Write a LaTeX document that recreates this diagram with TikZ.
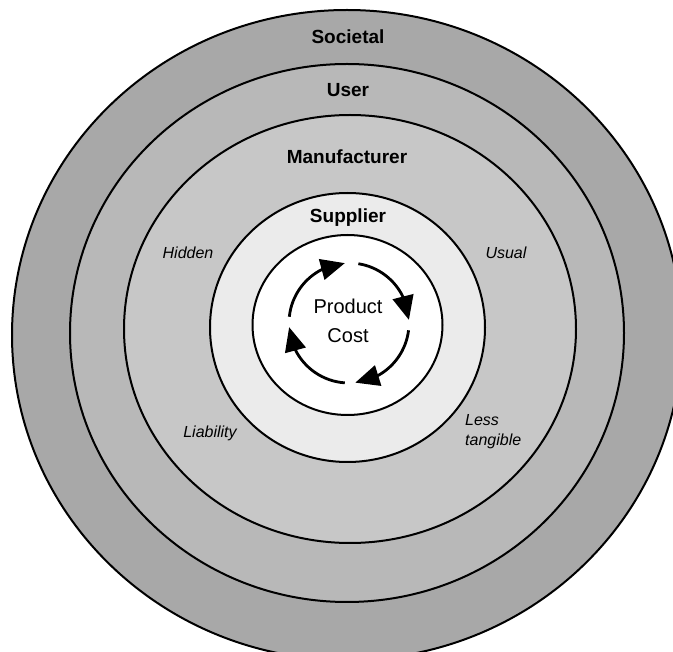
\documentclass[tikz,border=0pt]{standalone}
\usepackage{fontspec}
\setmainfont{Liberation Sans}
\usetikzlibrary{arrows.meta,bending}
\begin{document}
\begin{tikzpicture}[x=1pt,y=-1pt,
  ring/.style={draw=black,line width=2pt},
  bandlabel/.style={font=\fontsize{19}{22}\selectfont\bfseries,inner sep=0pt},
  costlabel/.style={font=\fontsize{20}{29}\selectfont,align=center,inner sep=0pt},
  sidelabel/.style={font=\fontsize{16}{20}\selectfont\itshape,inner sep=0pt},
  cyc/.style={line width=2.8pt,-{Triangle[length=24pt,width=21pt,flex]}}]
\useasboundingbox (0,0) rectangle (673,652);
\begin{scope}
\clip (0,0) rectangle (673,652);
\filldraw[ring,fill=black!34] (347,335) ellipse [x radius=335, y radius=325];
\filldraw[ring,fill=black!28] (347,333) ellipse [x radius=277, y radius=269];
\filldraw[ring,fill=black!22] (350,329) ellipse [x radius=226, y radius=214];
\filldraw[ring,fill=black!8] (347.5,327.5) ellipse [x radius=137.5, y radius=134.5];
\filldraw[ring,fill=white] (347.5,325) ellipse [x radius=95, y radius=90];
\end{scope}
\node[bandlabel] (societal) at (348,37) {Societal};
\node[bandlabel] (user) at (348,90) {User};
\node[bandlabel] (manufacturer) at (347,157) {Manufacturer};
\node[bandlabel] (supplier) at (348,218) {Supplier};
\node[costlabel] (cost) at (348,321) {Product\\Cost};
\node[sidelabel] (hidden) at (188,253) {Hidden};
\node[sidelabel] (usual) at (506,253) {Usual};
\node[sidelabel] (liability) at (210,433) {Liability};
\node[sidelabel,anchor=north west,align=left] (less) at (465,414) {Less\\tangible};
\coordinate (c) at (349,323);
\draw[cyc] (c) ++(186:60) arc[start angle=186,end angle=266,radius=60];
\draw[cyc] (c) ++(279:60) arc[start angle=279,end angle=357,radius=60];
\draw[cyc] (c) ++(7:60) arc[start angle=7,end angle=84,radius=60];
\draw[cyc] (c) ++(94:60) arc[start angle=94,end angle=176,radius=60];
\end{tikzpicture}
\end{document}
